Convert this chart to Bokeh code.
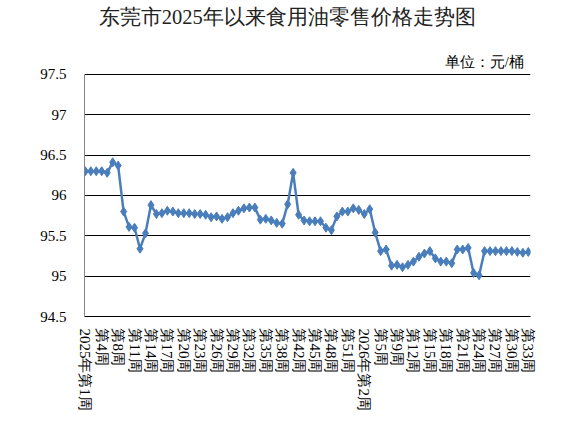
from bokeh.plotting import figure
from bokeh.models import Range1d, FixedTicker, Label
from bokeh.embed import file_html
from bokeh.resources import INLINE

# ---- data ----
weeks_2025 = [1, 2, 3, 4, 6, 7, 8, 9, 10, 11, 12, 13, 14, 15, 16, 17, 18, 19, 20, 21,
              22, 23, 24, 25, 26, 27, 28, 29, 30, 31, 32, 33, 34, 35, 36, 37, 38, 39,
              41, 42, 43, 44, 45, 46, 47, 48, 49, 50, 51, 52]
weeks_2026 = [1, 2, 3, 4, 5, 6, 7, 9, 10, 11, 12, 13, 14, 15, 16, 17, 18, 19, 20, 21,
              22, 23, 24, 25, 26, 27, 28, 29, 30, 31, 32, 33]
year_prefixed = {(2025, 1), (2026, 1), (2026, 2)}

prices = [96.30, 96.30, 96.30, 96.30, 96.28, 96.41, 96.37, 95.80, 95.61, 95.60,
          95.34, 95.53, 95.88, 95.77, 95.78, 95.81, 95.80, 95.78, 95.78, 95.78,
          95.77, 95.77, 95.76, 95.73, 95.74, 95.71, 95.73, 95.78, 95.81, 95.84,
          95.85, 95.85, 95.70, 95.71, 95.69, 95.66, 95.65, 95.89, 96.28, 95.76,
          95.69, 95.68, 95.68, 95.68, 95.60, 95.57, 95.74, 95.80, 95.80, 95.84,
          95.82, 95.77, 95.83, 95.54, 95.31, 95.33, 95.13, 95.14, 95.11, 95.14,
          95.18, 95.24, 95.28, 95.31, 95.22, 95.18, 95.18, 95.16, 95.33, 95.33,
          95.35, 95.04, 95.01, 95.31, 95.31, 95.31, 95.31, 95.31, 95.31, 95.30,
          95.29, 95.30]

y_ticks = [94.5, 95.0, 95.5, 96.0, 96.5, 97.0, 97.5]
y_tick_labels = ["94.5", "95", "95.5", "96", "96.5", "97", "97.5"]

title_text = "东莞市2025年以来食用油零售价格走势图"
unit_text = "单位：元/桶"

week_labels = []
for yr, wl in ((2025, weeks_2025), (2026, weeks_2026)):
    for w in wl:
        pre = f"{yr}年" if (yr, w) in year_prefixed else ""
        week_labels.append(f"{pre}第{w}周")

xs = list(range(len(prices)))

FONT = "Liberation Serif"
BLUE = "#4A7EBB"

X0, X1 = -0.15, 81.4
Y0, Y1 = 94.5, 98.39

p = figure(frame_width=446, frame_height=314,
           min_border_left=84, min_border_right=50, min_border_top=2, min_border_bottom=109,
           x_range=Range1d(X0, X1), y_range=Range1d(Y0, Y1),
           output_backend="svg", toolbar_location=None)
p.outline_line_color = None
p.background_fill_color = "white"
p.border_fill_color = "white"

# grid
p.xgrid.grid_line_color = None
p.ygrid.ticker = FixedTicker(ticks=y_ticks)
p.ygrid.grid_line_color = "black"
p.ygrid.grid_line_width = 1

# y axis
ya = p.yaxis[0]
ya.ticker = FixedTicker(ticks=y_ticks)
ya.bounds = (min(y_ticks), max(y_ticks))
ya.major_label_overrides = {t: l for t, l in zip(y_ticks, y_tick_labels)}
ya.axis_line_color = "#868686"
ya.major_tick_line_color = None
ya.minor_tick_line_color = None
ya.major_label_standoff = 12
ya.major_label_text_font = FONT
ya.major_label_text_font_size = "15px"
ya.major_label_text_color = "black"

# x axis
xa = p.xaxis[0]
tick_idx = list(range(0, len(prices), 3))
xa.ticker = FixedTicker(ticks=tick_idx)
xa.major_label_overrides = {i: week_labels[i] for i in tick_idx}
xa.major_label_orientation = "vertical"
xa.axis_line_color = "black"
xa.major_tick_line_color = None
xa.minor_tick_line_color = None
xa.major_label_standoff = 6
xa.major_label_text_font = FONT
xa.major_label_text_font_size = "15px"
xa.major_label_text_color = "black"

# series
p.line(xs, prices, line_color=BLUE, line_width=2.5)
p.scatter(xs, prices, marker="diamond", size=9, fill_color=BLUE, line_color=BLUE)

# title & unit
p.add_layout(Label(x=36.9, y=98.207, text=title_text, text_font=FONT, text_font_size="20.5px",
                   text_align="center", text_baseline="middle", text_color="#222222"))
p.add_layout(Label(x=80.17, y=97.649, text=unit_text, text_font=FONT, text_font_size="14.5px",
                   text_align="right", text_baseline="middle", text_color="black"))

open("out.html", "w").write(file_html(p, INLINE))
